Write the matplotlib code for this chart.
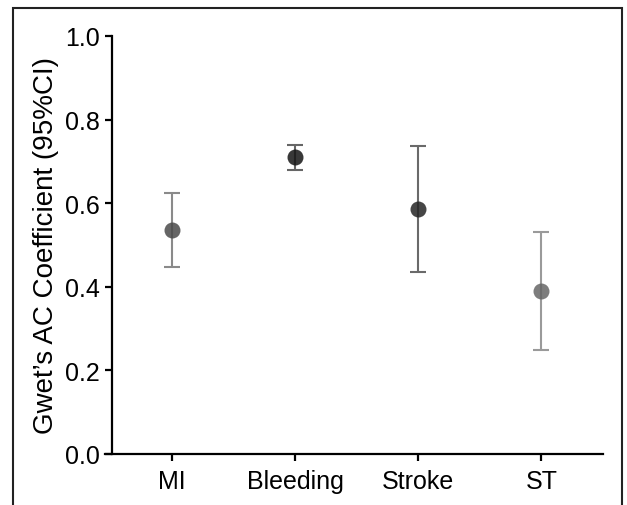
import matplotlib
matplotlib.use('Agg')
import matplotlib.pyplot as plt
from matplotlib.patches import Rectangle

plt.rcParams['font.family'] = ['Liberation Sans', 'DejaVu Sans']

categories = ['MI', 'Bleeding', 'Stroke', 'ST']
ac_coef = [0.536, 0.710, 0.587, 0.390]
ci_low = [0.448, 0.680, 0.435, 0.250]
ci_high = [0.625, 0.740, 0.738, 0.530]
point_colors = ['#4a4a4a', '#151515', '#252525', '#666666']
bar_colors = ['#8a8a8a', '#666666', '#6a6a6a', '#9a9a9a']

fig = plt.figure(figsize=(6.27, 5.06), dpi=100)
ax = fig.add_axes([112/627, 1 - 455/506, (603-112)/627, (455-37)/506])

for i, cat in enumerate(categories):
    ax.errorbar(i, ac_coef[i],
                yerr=[[ac_coef[i] - ci_low[i]], [ci_high[i] - ac_coef[i]]],
                fmt='none', ecolor=bar_colors[i], elinewidth=1.5,
                capsize=6, capthick=1.5, zorder=2)
    ax.plot(i, ac_coef[i], 'o', color=point_colors[i], markersize=11.5,
            alpha=0.85, markeredgewidth=0, zorder=3)

ax.set_xlim(-0.49, 3.5)
ax.set_ylim(0, 1.0)
ax.set_xticks(range(len(categories)))
ax.set_xticklabels(categories)
ax.set_yticks([0.0, 0.2, 0.4, 0.6, 0.8, 1.0])
ax.set_yticklabels(['0.0', '0.2', '0.4', '0.6', '0.8', '1.0'])
ax.set_ylabel("Gwet\u2019s AC Coefficient (95%CI)", fontsize=20, labelpad=4)

ax.spines['top'].set_visible(False)
ax.spines['right'].set_visible(False)
ax.spines['left'].set_linewidth(1.6)
ax.spines['bottom'].set_linewidth(1.6)
ax.spines['bottom'].set_bounds(-0.55, 3.5)
ax.tick_params(axis='both', width=1.6, length=5, labelsize=18, colors='black')
ax.tick_params(axis='x', pad=6)
ax.tick_params(axis='y', pad=4)

# frame around the figure
fig.patches.append(Rectangle((13/627, -0.05), (622-13)/627, 1.05 - 9/506,
                             transform=fig.transFigure, fill=False,
                             edgecolor='#222222', linewidth=1.5))

fig.savefig('out.png', dpi=100)
